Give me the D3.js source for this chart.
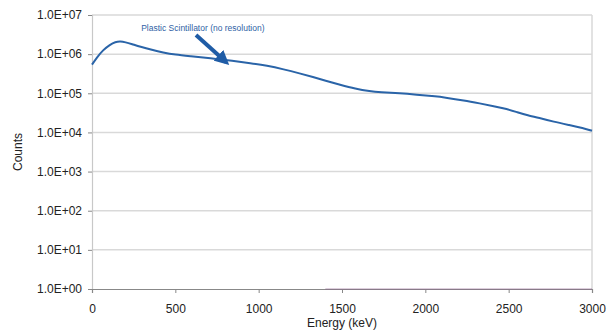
<!DOCTYPE html>
<html><head><meta charset="utf-8">
<script src="https://cdn.jsdelivr.net/npm/d3@7"></script>
<style>body{margin:0;background:#fff}svg{display:block}text{font-family:"Liberation Sans",Arial,sans-serif}</style>
</head><body><svg id="c" width="608" height="330"></svg>
<script>
// Energy (keV) and counts for the plastic scintillator spectrum
const energy = [0, 30, 66, 108, 140, 170, 200, 240, 288, 360, 426, 500, 588, 708, 846, 950, 1050, 1150, 1248, 1326, 1400, 1488, 1580, 1668, 1728, 1848, 1950, 2040, 2130, 2230, 2328, 2410, 2490, 2550, 2610, 2700, 2766, 2860, 2970, 3000];
const counts = [5.4e5, 8.3e5, 1.27e6, 1.75e6, 2.05e6, 2.12e6, 2.02e6, 1.8e6, 1.55e6, 1.28e6, 1.1e6, 9.7e5, 8.9e5, 7.9e5, 6.7e5, 5.9e5, 5.1e5, 4.1e5, 3.2e5, 2.6e5, 2.1e5, 1.65e5, 1.3e5, 1.12e5, 1.06e5, 1.0e5, 9.2e4, 8.5e4, 7.7e4, 6.6e4, 5.5e4, 4.7e4, 3.95e4, 3.3e4, 2.75e4, 2.25e4, 1.9e4, 1.55e4, 1.22e4, 1.1e4];
// faint second series lying on the bottom axis
const energy2 = [1400, 3000];
const counts2 = [1, 1];
const yTicks = [1, 10, 100, 1000, 1e4, 1e5, 1e6, 1e7];
const yTickLabels = ["1.0E+00","1.0E+01","1.0E+02","1.0E+03","1.0E+04","1.0E+05","1.0E+06","1.0E+07"];
const xTicks = [0, 500, 1000, 1500, 2000, 2500, 3000];
const seriesLabel = "Plastic Scintillator (no resolution)";

const svg = d3.select("#c");
const L = 92, R = 592, T = 15, B = 289;
const x = d3.scaleLinear().domain([0, 3000]).range([L, R]);
const y = d3.scaleLog().domain([1, 1e7]).range([B, T]);

// gridlines
svg.append("g").selectAll("line").data(yTicks.slice(1)).join("line")
  .attr("x1", L).attr("x2", R).attr("y1", d => y(d)).attr("y2", d => y(d))
  .attr("stroke", "#d9d9d9").attr("stroke-width", 1.5);
// right border
svg.append("line").attr("x1", R).attr("x2", R).attr("y1", T).attr("y2", B)
  .attr("stroke", "#d9d9d9").attr("stroke-width", 1.5);

// y axis
const ya = svg.append("g").attr("transform", `translate(${L},0)`)
  .call(d3.axisLeft(y).tickValues(yTicks).tickFormat((d, i) => yTickLabels[i]).tickSize(4).tickPadding(6));
ya.select(".domain").attr("stroke", "#c8c8c8").attr("stroke-width", 1.2);
ya.selectAll(".tick line").attr("stroke", "#888");
ya.selectAll("text").attr("font-size", 12).attr("fill", "#222").attr("font-family", "Liberation Sans, Arial, sans-serif");

// x axis
const xa = svg.append("g").attr("transform", `translate(0,${B})`)
  .call(d3.axisBottom(x).tickValues(xTicks).tickFormat(d3.format("d")).tickSize(4).tickPadding(11));
xa.select(".domain").attr("stroke", "#888").attr("stroke-width", 1.2);
xa.selectAll(".tick line").attr("stroke", "#888");
xa.selectAll("text").attr("font-size", 12).attr("fill", "#222").attr("font-family", "Liberation Sans, Arial, sans-serif");

// second faint series
svg.append("path").datum(energy2.map((e, i) => [e, counts2[i]]))
  .attr("d", d3.line().x(d => x(d[0])).y(d => y(d[1])))
  .attr("fill", "none").attr("stroke", "#8a5a8a").attr("stroke-width", 1).attr("opacity", 0.6);

// main curve
svg.append("path").datum(energy.map((e, i) => [e, counts[i]]))
  .attr("d", d3.line().x(d => x(d[0])).y(d => y(d[1])).curve(d3.curveBasis))
  .attr("fill", "none").attr("stroke", "#2a64a8").attr("stroke-width", 2);

// annotation
svg.append("text").attr("x", x(665)).attr("y", 31).attr("text-anchor", "middle")
  .attr("font-size", 8.5).attr("fill", "#2f5fa5").text(seriesLabel);
svg.append("defs").append("marker").attr("id", "ah").attr("viewBox", "0 0 10 10")
  .attr("refX", 7).attr("refY", 5).attr("markerWidth", 3.6).attr("markerHeight", 3.6).attr("orient", "auto")
  .append("path").attr("d", "M0,0 L10,5 L0,10 z").attr("fill", "#1f5ca6");
svg.append("line").attr("x1", 196).attr("y1", 35).attr("x2", 226).attr("y2", 62)
  .attr("stroke", "#1f5ca6").attr("stroke-width", 4).attr("marker-end", "url(#ah)");

// axis titles
svg.append("text").attr("x", (L + R) / 2).attr("y", 327).attr("text-anchor", "middle")
  .attr("font-size", 12).attr("fill", "#222").text("Energy (keV)");
svg.append("text").attr("transform", "translate(22,152) rotate(-90)").attr("text-anchor", "middle")
  .attr("font-size", 12).attr("fill", "#222").text("Counts");
</script></body></html>
